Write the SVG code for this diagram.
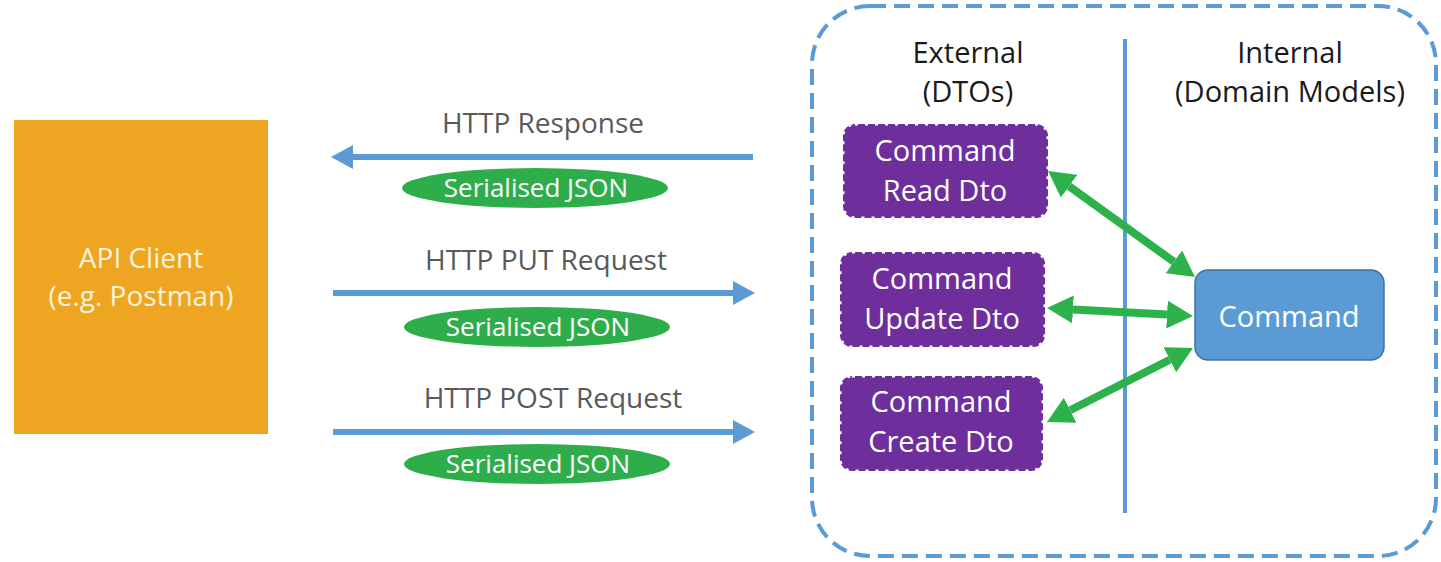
<svg xmlns="http://www.w3.org/2000/svg" width="1441" height="562" viewBox="0 0 1441 562">
<style>
text{font-family:"Open Sans","Liberation Sans",sans-serif;text-anchor:middle}
.lbl{font-size:28px;fill:#595959}
.hdr{font-size:29px;fill:#1a1a1a}
.wt{font-size:29px;fill:#ffffff}
.js{font-size:26px;fill:#ffffff}
.blue{stroke:#5B9BD5;stroke-width:6;fill:none}
.green{stroke:#2DB14B;stroke-width:8;fill:none;marker-start:url(#gh);marker-end:url(#gh)}
.pill{fill:#2EAE4B}
.dto{fill:#6E2F9C}
.dtoedge{fill:none;stroke:#ffffff;stroke-width:3;stroke-dasharray:3 7}
</style>
<defs>
<marker id="bh" markerUnits="userSpaceOnUse" markerWidth="22" markerHeight="24" refX="0" refY="12" orient="auto-start-reverse">
<path d="M0,0 L22,12 L0,24 z" fill="#5B9BD5"/>
</marker>
<marker id="gh" markerUnits="userSpaceOnUse" markerWidth="26" markerHeight="28" refX="0" refY="14" orient="auto-start-reverse">
<path d="M0,0 L26,14 L0,28 z" fill="#2DB14B"/>
</marker>
</defs>
<rect width="1441" height="562" fill="#ffffff"/>
<g id="boundary">
<rect x="812" y="6" width="624" height="550" rx="58" fill="none" stroke="#5B9BD5" stroke-width="4" stroke-dasharray="16 8"/>
<line x1="1125" y1="39" x2="1125" y2="513" stroke="#5B9BD5" stroke-width="4"/>
<text class="hdr" x="968" y="63">External</text>
<text class="hdr" x="968" y="102">(DTOs)</text>
<text class="hdr" x="1290" y="63">Internal</text>
<text class="hdr" x="1290" y="102">(Domain Models)</text>
</g>
<g id="api-client">
<rect x="14" y="120" width="254" height="314" fill="#EEA521"/>
<text class="wt" x="141" y="268" style="fill:#FCF3DD;font-size:28px">API Client</text>
<text class="wt" x="141" y="306" style="fill:#FCF3DD;font-size:28px">(e.g. Postman)</text>
</g>
<g id="connectors">
<line class="blue" x1="753" y1="157" x2="353" y2="157" marker-end="url(#bh)"/>
<line class="blue" x1="333" y1="293" x2="733" y2="293" marker-end="url(#bh)"/>
<line class="blue" x1="333" y1="432" x2="733" y2="432" marker-end="url(#bh)"/>
<line class="green" x1="1069.1" y1="186.2" x2="1173.9" y2="261.8"/>
<line class="green" x1="1073" y1="309.4" x2="1167" y2="314.6"/>
<line class="green" x1="1070.2" y1="410.2" x2="1169.8" y2="359.8"/>
</g>
<g id="response-label">
<text class="lbl" x="543" y="133">HTTP Response</text>
<ellipse class="pill" cx="535" cy="188" rx="133" ry="20"/>
<text class="js" x="536" y="197">Serialised JSON</text>
</g>
<g id="put-label">
<text class="lbl" x="546" y="270">HTTP PUT Request</text>
<ellipse class="pill" cx="537" cy="327" rx="133" ry="20"/>
<text class="js" x="538" y="336">Serialised JSON</text>
</g>
<g id="post-label">
<text class="lbl" x="553" y="408">HTTP POST Request</text>
<ellipse class="pill" cx="537" cy="464" rx="133" ry="20"/>
<text class="js" x="538" y="473">Serialised JSON</text>
</g>
<g id="read-dto">
<rect class="dto" x="843" y="124" width="205" height="94" rx="12"/>
<rect class="dtoedge" x="843" y="124" width="205" height="94" rx="12"/>
<text class="wt" x="945" y="161">Command</text>
<text class="wt" x="945" y="201">Read Dto</text>
</g>
<g id="update-dto">
<rect class="dto" x="840" y="252" width="205" height="95" rx="12"/>
<rect class="dtoedge" x="840" y="252" width="205" height="95" rx="12"/>
<text class="wt" x="942" y="289">Command</text>
<text class="wt" x="942" y="329">Update Dto</text>
</g>
<g id="create-dto">
<rect class="dto" x="840" y="376" width="203" height="95" rx="12"/>
<rect class="dtoedge" x="840" y="376" width="203" height="95" rx="12"/>
<text class="wt" x="941" y="412">Command</text>
<text class="wt" x="941" y="452">Create Dto</text>
</g>
<g id="command">
<rect x="1195" y="270" width="189" height="90" rx="13" fill="#5B9BD5" stroke="#41719C" stroke-width="1.5"/>
<text class="wt" x="1289" y="327">Command</text>
</g>
</svg>
